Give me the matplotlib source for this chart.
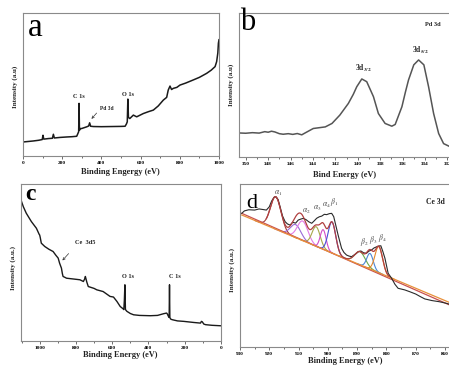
import numpy as np
import matplotlib
matplotlib.use("Agg")
import matplotlib.pyplot as plt
from matplotlib.ticker import MultipleLocator

plt.rcParams['font.family'] = ['Liberation Serif', 'DejaVu Serif']
plt.rcParams['mathtext.fontset'] = 'stix'

W, H = 449, 365

# ---------------- data ----------------
# panel a: survey spectrum
a_ev = [0, 30, 52, 80, 98, 102, 106, 130, 150, 155,
        160, 190, 223, 250, 274, 280, 284, 286, 288, 292,
        299, 325, 335, 340, 345, 360, 400, 450, 500, 521,
        528, 532, 535, 538, 545, 563, 580, 614, 640, 665,
        690, 716, 733, 741, 750, 758, 767, 785, 801, 830,
        869, 900, 937, 960, 980, 988, 994, 997, 1000]
a_int = [9.8, 10.2, 10.5, 11.0, 11.5, 14.5, 11.8, 12.2, 12.4, 15.2,
         12.6, 13.0, 13.3, 13.5, 13.8, 15.7, 17.0, 36.8, 18.0, 19.2,
         19.2, 20.4, 21.0, 23.2, 20.8, 20.6, 20.5, 20.6, 20.7, 20.8,
         22.5, 23.9, 39.8, 27.0, 26.2, 28.6, 27.4, 29.7, 31.0, 32.1,
         35.0, 39.1, 41.0, 46.1, 48.9, 46.5, 47.3, 48.0, 49.6, 51.0,
         53.2, 55.0, 57.8, 60.0, 62.5, 66.0, 72.0, 78.9, 81.3]

# panel b: Pd 3d
b_ev = [350.6, 350.0, 349.4, 348.8, 348.3, 348.0, 347.7, 347.4, 347.0, 346.66,
        346.2, 345.8, 345.4, 345.0, 344.7, 343.97, 342.9, 342.3, 341.6, 340.84,
        340.4, 340.09, 339.64, 339.2, 338.6, 338.16, 337.56, 336.96, 336.66, 336.06,
        335.75, 335.47, 335.0, 334.57, 334.1, 333.68, 333.23, 332.78, 332.34, 331.83]
b_int = [16.7, 16.5, 16.9, 16.6, 17.6, 17.2, 17.9, 17.4, 16.2, 15.8,
         16.2, 15.7, 16.3, 15.4, 16.7, 19.8, 20.9, 23.3, 29.1, 37.2,
         43.5, 48.8, 54.2, 52.3, 41.9, 30.2, 23.3, 21.4, 22.6, 34.9,
         45.0, 53.5, 64.0, 67.4, 64.0, 48.8, 30.2, 16.3, 9.3, 7.4]

# panel c: survey spectrum
c_ev = [1103, 1090, 1074, 1046, 1018, 1003, 1000, 997, 991, 972,
        950, 926, 910, 898, 890, 880, 875, 871, 860, 852,
        800, 778, 759, 752, 748, 740, 732, 700, 685, 650,
        612, 593, 574, 556, 540, 536, 533, 530, 527, 519,
        500, 482, 450, 390, 350, 316, 300, 297, 290, 286,
        284, 282, 278, 270, 240, 205, 150, 113, 108, 103,
        95, 85, 50, 2]
c_int = [89.8, 85.5, 81.4, 76.1, 71.8, 68.0, 67.5, 66.0, 62.3, 60.2,
         58.5, 57.0, 54.5, 52.8, 49.5, 46.4, 43.0, 41.1, 40.5, 40.0,
         39.3, 39.0, 37.9, 39.5, 41.1, 37.5, 34.7, 33.5, 32.6, 31.5,
         28.4, 28.0, 25.2, 22.0, 20.5, 20.0, 26.0, 35.8, 20.0, 18.9,
         17.5, 16.7, 16.3, 16.1, 16.3, 17.4, 17.8, 17.4, 15.7, 15.0,
         35.8, 15.0, 14.0, 13.6, 12.8, 12.5, 11.8, 11.4, 12.5, 12.2,
         10.8, 10.4, 10.0, 9.7]

# panel d: Ce 3d
d_ev = [929.4, 928.5, 927.0, 925.0, 923.5, 922.0, 921.0, 920.0, 919.2, 918.4,
        917.8, 917.0, 916.3, 915.5, 914.6, 913.8, 912.9, 912.0, 911.0, 910.1,
        909.2, 908.4, 907.5, 906.5, 905.5, 904.6, 903.8, 902.9, 902.1, 901.2,
        900.4, 899.5, 898.7, 898.0, 897.6, 896.5, 895.3, 894.5, 893.6, 892.8,
        891.9, 891.0, 890.2, 889.5, 888.7, 887.8, 886.8, 886.0, 885.1, 884.2,
        883.3, 882.5, 881.9, 881.2, 880.5, 879.4, 878.2, 877.1, 876.0, 874.8,
        873.7, 872.0, 870.0, 868.5, 866.9, 864.5, 862.0, 860.0, 858.7]
d_int = [82.0, 83.5, 84.2, 84.0, 84.7, 84.3, 84.0, 86.0, 89.5, 91.8,
         92.2, 90.5, 86.0, 80.5, 76.9, 75.5, 74.8, 76.5, 76.0, 77.9,
         78.5, 78.9, 78.2, 76.8, 75.9, 77.5, 79.0, 79.9, 80.3, 81.4,
         81.2, 81.8, 82.0, 80.0, 77.0, 68.7, 60.5, 58.0, 56.4, 55.8,
         55.4, 56.5, 57.5, 58.6, 58.9, 57.8, 57.5, 58.8, 59.5, 60.8,
         61.5, 62.0, 62.1, 58.5, 54.4, 45.2, 42.1, 38.5, 36.0, 35.5,
         35.0, 33.9, 32.5, 31.0, 29.5, 28.5, 27.8, 27.0, 26.4]

# background lines (two end points each)
bg_ev = [929.4, 858.7]
bg_orange = [81.0, 27.5]
bg_red = [82.0, 26.0]

# fitted components: centre (eV), height above background, sigma (eV)
comp_names = ['a1', 'a2v', 'a2', 'a3', 'a4', 'b1', 'b2', 'b3', 'b4']
comp_center = [917.8, 911.0, 908.6, 904.0, 901.6, 898.6, 889.0, 885.6, 882.6]
comp_height = [20.0, 8.0, 12.0, 12.0, 12.0, 19.0, 8.0, 9.5, 16.0]
comp_sigma = [1.8, 1.8, 1.8, 1.4, 1.0, 1.3, 1.8, 1.1, 1.3]
comp_color = ['#a33c3c', '#9a6ad8', '#e27ae6', '#a8a84a', '#d24cc8',
              '#4a50d4', '#6aaa4a', '#4a86d6', '#e4882a']

# ---------------- figure ----------------
fig = plt.figure(figsize=(W / 100, H / 100), dpi=100)


def box(l, t, r, b):
    return [l / W, 1 - b / H, (r - l) / W, (b - t) / H]


def ftext(x, y, s, **kw):
    fig.text(x / W, 1 - y / H, s, ha='center', va='center', **kw)


spine_c = '#8a8a8a'


def style(ax, major, minor):
    for sp in ax.spines.values():
        sp.set_color(spine_c)
        sp.set_linewidth(0.8)
    ax.set_yticks([])
    ax.xaxis.set_major_locator(MultipleLocator(major))
    ax.xaxis.set_minor_locator(MultipleLocator(minor))
    ax.tick_params(axis='x', which='both', direction='out', color='#555555',
                   width=0.6, labelsize=3.8, pad=1.5)
    ax.tick_params(axis='x', which='major', length=2.2)
    ax.tick_params(axis='x', which='minor', length=1.2)
    for lab in ax.get_xticklabels():
        lab.set_fontweight('bold')


# panel a
axa = fig.add_axes(box(23, 13, 219, 156))
axa.plot(a_ev, a_int, color='#1a1a1a', lw=1.1)
axa.set_xlim(0, 1000)
axa.set_ylim(0, 100)
style(axa, 200, 100)
axa.annotate('', xy=(340, 24.5), xytext=(385, 31.5),
             arrowprops=dict(arrowstyle='->', color='#333333', lw=0.5,
                             mutation_scale=4))

# panel b
axb = fig.add_axes(box(239, 13, 453, 157))
axb.plot(b_ev, b_int, color='#555555', lw=1.1)
axb.set_xlim(350.6, 331.5)
axb.set_ylim(0, 100)
style(axb, 2, 1)

# panel c
axc = fig.add_axes(box(21, 184, 221, 341))
axc.plot(c_ev, c_int, color='#1a1a1a', lw=1.0)
axc.set_xlim(1103, 0)
axc.set_ylim(0, 100)
style(axc, 200, 100)
axc.annotate('', xy=(885, 50), xytext=(830, 57),
             arrowprops=dict(arrowstyle='->', color='#333333', lw=0.5,
                             mutation_scale=4))

# panel d
axd = fig.add_axes(box(240, 184, 452, 347))
xs = np.linspace(929.4, 858.7, 800)
bg = np.interp(xs[::-1], bg_ev[::-1], bg_orange[::-1])[::-1]
env = bg.copy()
for c0, h0, s0, col in zip(comp_center, comp_height, comp_sigma, comp_color):
    g = h0 * np.exp(-(xs - c0) ** 2 / (2 * s0 ** 2))
    env += g
    m = np.abs(xs - c0) < 4 * s0
    axd.plot(xs[m], bg[m] + g[m], color=col, lw=0.8)
axd.plot(bg_ev, bg_red, color='#c85050', lw=0.9)
axd.plot(bg_ev, bg_orange, color='#e8903a', lw=0.9)
m = (xs < 921) & (xs > 879)
axd.plot(d_ev, d_int, color='#2a2a2a', lw=0.8)
axd.plot(xs[m], env[m], color='#b04040', lw=0.9)
axd.set_xlim(930, 857.6)
axd.set_ylim(0, 100)
style(axd, 10, 5)

# ---------------- texts ----------------
bold = dict(fontweight='bold', color='#222222')
ftext(35, 28, 'a', fontsize=24)
ftext(248, 23, 'b', fontsize=22)
ftext(30, 195, 'c', fontsize=17, fontweight='bold')
ftext(252, 203, 'd', fontsize=16)

ftext(120, 172, 'Binding Engergy (eV)', fontsize=6, **bold)
ftext(345, 175, 'Bind Energy (eV)', fontsize=6, **bold)
ftext(120, 355, 'Binding Energy (eV)', fontsize=6, **bold)
ftext(345, 361, 'Binding Energy (eV)', fontsize=6, **bold)

ftext(15, 87, 'Intensity (a.u)', fontsize=5, rotation=90, **bold)
ftext(231, 85, 'Intensity (a.u)', fontsize=5, rotation=90, **bold)
ftext(13.5, 268, 'Intensity (a.u.)', fontsize=5, rotation=90, **bold)
ftext(232, 270, 'Intensity (a.u.)', fontsize=5, rotation=90, **bold)

ftext(79, 97, 'C 1s', fontsize=4.5, **bold)
ftext(128, 95, 'O 1s', fontsize=4.5, **bold)
ftext(107, 108, 'Pd 3d', fontsize=4, **bold)

ftext(433, 25, 'Pd 3d', fontsize=4.5, **bold)
ftext(363, 68, r'3d$_{\mathbf{3/2}}$', fontsize=5.5, **bold)
ftext(420, 50, r'3d$_{\mathbf{5/2}}$', fontsize=5.5, **bold)

ftext(85, 242, 'Ce  3d5', fontsize=4.5, **bold)
ftext(128.3, 277, 'O 1s', fontsize=4.5, **bold)
ftext(175, 277, 'C 1s', fontsize=4.5, **bold)

ftext(435, 202, 'Ce 3d', fontsize=5.5, **bold)
gl = dict(fontsize=5.5, color='#444444')
ftext(278.5, 193, r'$\alpha_1$', **gl)
ftext(306.5, 211.5, r'$\alpha_2$', **gl)
ftext(317.5, 208.5, r'$\alpha_3$', **gl)
ftext(326.5, 205, r'$\alpha_4$', **gl)
ftext(334.5, 201.5, r'$\beta_1$', **gl)
ftext(364.5, 241.5, r'$\beta_2$', **gl)
ftext(373.5, 240, r'$\beta_3$', **gl)
ftext(382, 237.5, r'$\beta_4$', **gl)

fig.savefig('out.png', dpi=100)
